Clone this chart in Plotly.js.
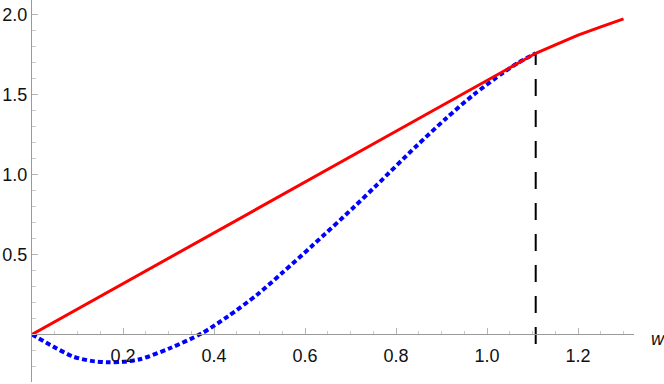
<!DOCTYPE html>
<html>
<head>
<meta charset="utf-8">
<script src="https://cdn.plot.ly/plotly-3.0.1.min.js"></script>
<style>html,body{margin:0;padding:0;background:#fff;}#chart{width:664px;height:384px;}</style>
</head>
<body>
<div id="chart"></div>
<script>
// Red curve (solid): straight part up to the marker, then a flatter concave part
const redX = [0, 1.107, 1.15, 1.2, 1.25, 1.30];
const redY = [0, 1.757, 1.81, 1.87, 1.922, 1.972];
// Blue curve (dotted)
const blueX = [0, 0.047, 0.091, 0.13, 0.167, 0.2, 0.237, 0.303, 0.373, 0.43, 0.494, 0.55, 0.618, 0.706, 0.757, 0.845, 0.91, 0.97, 1.036, 1.07, 1.107];
const blueY = [0, -0.076, -0.139, -0.165, -0.174, -0.171, -0.155, -0.086, 0.007, 0.112, 0.247, 0.385, 0.56, 0.792, 0.932, 1.178, 1.35, 1.497, 1.637, 1.70, 1.757];
// Vertical dashed marker
const markX = [1.107, 1.107];
const markY = [-0.06, 1.757];
// Ticks
const xTickVals = [0.2, 0.4, 0.6, 0.8, 1.0, 1.2];
const xTickText = ["0.2", "0.4", "0.6", "0.8", "1.0", "1.2"];
const yTickVals = [0.5, 1.0, 1.5, 2.0];
const yTickText = ["0.5", "1.0", "1.5", "2.0"];
const xRange = [0, 1.323];
const yRange = [-0.297, 2.09];

const traces = [
  {x: markX, y: markY, mode: 'lines', line: {color: '#000', width: 2, dash: '17px,14px'}, hoverinfo: 'skip'},
  {x: blueX, y: blueY, mode: 'lines', line: {color: '#0000ff', width: 4, dash: '5px,3px', shape: 'spline', smoothing: 0.8}, hoverinfo: 'skip'},
  {x: redX, y: redY, mode: 'lines', line: {color: '#ff0000', width: 3, shape: 'linear'}, hoverinfo: 'skip'}
];

const font = {family: '"Liberation Sans", Arial, sans-serif', size: 18, color: '#111'};
const layout = {
  width: 664, height: 384,
  margin: {l: 32, r: 30, t: 0, b: 2, pad: 0},
  paper_bgcolor: '#fff', plot_bgcolor: '#fff',
  showlegend: false,
  font: font,
  xaxis: {
    range: xRange, anchor: 'free', position: (0 - yRange[0]) / (yRange[1] - yRange[0]),
    showgrid: false, zeroline: false, showline: true, linecolor: '#9a9a9a', linewidth: 1,
    tickmode: 'array', tickvals: xTickVals, ticktext: xTickText,
    ticks: 'inside', ticklen: 6, tickwidth: 1, tickcolor: '#b5b5b5',
    minor: {tickmode: 'linear', tick0: 0, dtick: 0.05, ticks: 'inside', ticklen: 3.5, tickwidth: 1, tickcolor: '#c8c8c8', showgrid: false},
    tickfont: font, ticklabelstandoff: 5, fixedrange: true
  },
  yaxis: {
    range: yRange, anchor: 'x',
    showgrid: false, zeroline: false, showline: true, linecolor: '#9a9a9a', linewidth: 1,
    tickmode: 'array', tickvals: yTickVals, ticktext: yTickText,
    ticks: 'inside', ticklen: 6, tickwidth: 1, tickcolor: '#b5b5b5',
    minor: {tickmode: 'linear', tick0: 0, dtick: 0.1, ticks: 'inside', ticklen: 3.5, tickwidth: 1, tickcolor: '#c8c8c8', showgrid: false},
    tickfont: font, fixedrange: true
  },
  annotations: [
    {text: '<i>w</i>', xref: 'paper', yref: 'y', x: 1.025, y: -0.03, xanchor: 'left', yanchor: 'middle', showarrow: false, font: font}
  ]
};
Plotly.newPlot('chart', traces, layout, {staticPlot: true, displayModeBar: false});
</script>
</body>
</html>
